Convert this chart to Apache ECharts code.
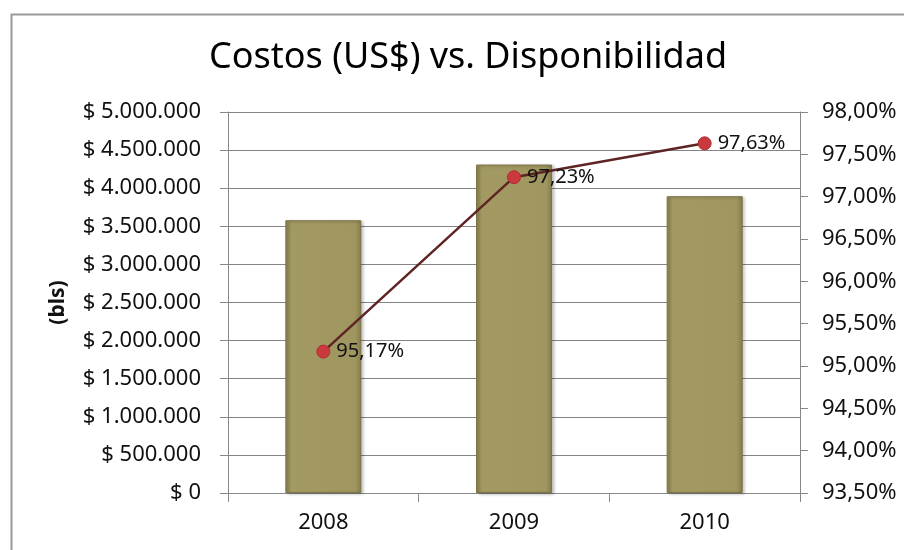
<!DOCTYPE html>
<html>
<head>
<meta charset="utf-8">
<script src="https://cdn.jsdelivr.net/npm/echarts@6/dist/echarts.min.js"></script>
<style>
html,body{margin:0;padding:0;background:#fff;}
#chart{width:904px;height:550px;}
</style>
</head>
<body>
<div id="chart"></div>
<script>
const categories = ['2008', '2009', '2010'];
const costs = [3580000, 4310000, 3895000];
const availability = [95.17, 97.23, 97.63];
const titleText = 'Costos (US$) vs. Disponibilidad';
const leftAxisName = '(bls)';

function fmtMoney(v) {
  const s = Math.round(v).toString().replace(/\B(?=(\d{3})+(?!\d))/g, '.');
  return '$ ' + s;
}
function fmtPct(v) {
  return v.toFixed(2).replace('.', ',') + '%';
}

const chart = echarts.init(document.getElementById('chart'));
const font = 'Noto Sans';
chart.setOption({
  animation: false,
  backgroundColor: '#fff',
  graphic: [{
    type: 'rect', left: 9, top: 12, shape: { width: 900, height: 545 },
    style: { fill: 'none', stroke: '#9a9a9a', lineWidth: 2 }, silent: true, z: -1
  }],
  title: {
    text: titleText, left: 204, top: 35,
    textStyle: { fontFamily: font, fontSize: 36, fontWeight: 'normal', color: '#000' }
  },
  grid: { left: 228, right: 104, top: 112, bottom: 57, containLabel: false },
  xAxis: {
    type: 'category', data: categories,
    axisLine: { lineStyle: { color: '#888', width: 1 } },
    axisTick: { show: true, length: 9, lineStyle: { color: '#888' } },
    axisLabel: { fontFamily: font, fontSize: 22, color: '#111', margin: 19 }
  },
  yAxis: [{
    type: 'value', min: 0, max: 5000000, interval: 500000,
    name: leftAxisName, nameLocation: 'middle', nameGap: 159, nameRotate: 90,
    nameTextStyle: { fontFamily: font, fontSize: 21, fontWeight: 'bold', color: '#111' },
    axisLine: { show: true, lineStyle: { color: '#888' } },
    axisTick: { show: true, length: 8, lineStyle: { color: '#888' } },
    axisLabel: { fontFamily: font, fontSize: 22, color: '#111', margin: 27, formatter: fmtMoney },
    splitLine: { show: true, lineStyle: { color: '#858585', width: 1 } }
  }, {
    type: 'value', min: 93.5, max: 98, interval: 0.5, position: 'right',
    axisLine: { show: true, lineStyle: { color: '#888' } },
    axisTick: { show: true, length: 8, lineStyle: { color: '#888' } },
    axisLabel: { fontFamily: font, fontSize: 22, color: '#111', margin: 22, formatter: fmtPct },
    splitLine: { show: false }
  }],
  series: [{
    type: 'bar', data: costs, yAxisIndex: 0, barWidth: 76,
    itemStyle: {
      color: new echarts.graphic.LinearGradient(0, 0, 1, 0, [
        { offset: 0, color: '#8a8150' },
        { offset: 0.08, color: '#a39a63' },
        { offset: 0.92, color: '#a09660' },
        { offset: 1, color: '#857c4b' }
      ]),
      borderColor: '#7c7345', borderWidth: 1,
      shadowColor: 'rgba(0,0,0,0.25)', shadowBlur: 3, shadowOffsetX: 2, shadowOffsetY: 1
    },
    z: 2
  }, {
    type: 'line', data: availability, yAxisIndex: 1,
    symbol: 'circle', symbolSize: 13,
    lineStyle: { color: '#5e2424', width: 2.5 },
    itemStyle: { color: '#c9393d', borderColor: '#b03035', borderWidth: 1 },
    label: {
      show: true, position: 'right', distance: 6,
      fontFamily: font, fontSize: 20, color: '#111',
      formatter: p => fmtPct(p.value)
    },
    z: 5
  }]
});
</script>
</body>
</html>
